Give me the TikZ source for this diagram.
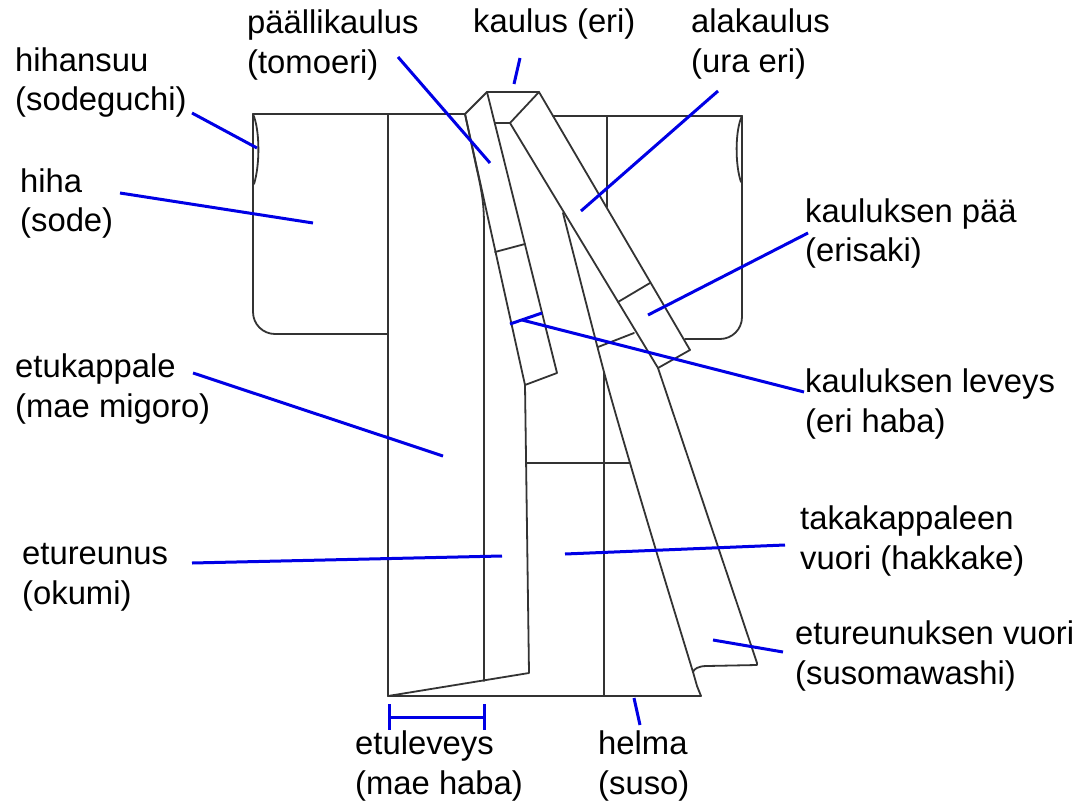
\documentclass[tikz,border=0pt]{standalone}
\usepackage{fontspec}
\setmainfont{Liberation Sans}
\begin{document}
\begin{tikzpicture}[x=1pt,y=-1pt,
  outline/.style={draw=black!80, line width=1.8pt, line join=round, line cap=round},
  pointer/.style={draw=blue!90!black, line width=3pt},
  lbl/.style={anchor=base west, inner sep=0pt, font=\fontsize{32.8}{40}\selectfont}]
\useasboundingbox[fill=white] (0,0) rectangle (1091,805);

% ---------- garment outline ----------
% left sleeve and body
\draw[outline] (253,114) -- (465,114);
\draw[outline, rounded corners=22pt] (253,114) -- (253,334) -- (388,334);
\draw[outline] (253,114) .. controls (260,130) and (260,165) .. (254,184);
\draw[outline] (388,114) -- (388,696);
% okumi seam and front edge
\draw[outline] (465,114) -- (477,170) .. controls (482,192) and (484,205) .. (484,225) -- (484,681);
\draw[outline] (388,696) -- (529,673) -- (525,385);
% hem
\draw[outline] (388,696) -- (701,696);
% right sleeve
\draw[outline] (553,116) -- (742,116);
\draw[outline, rounded corners=22pt] (742,116) -- (742,339) -- (685,339);
\draw[outline] (742,116) .. controls (735,130) and (735,165) .. (741,182);
\draw[outline] (607,116) -- (607,207);

% collar top and neck
\draw[outline] (465,114) -- (487,92) -- (539,92) -- (510,123) -- (495,123);
% over-collar strip (left)
\draw[outline] (465,114) -- (525,385) -- (557,373) -- (487,92);
\draw[outline] (495,252) -- (525,244);
% under-collar strip (right)
\draw[outline] (539,92) -- (690,350) -- (658,368);
\draw[outline] (618,302) -- (650,283);
% opened front panel edge and its hem lining
\draw[outline] (510,123) -- (658,368) -- (757,663) -- (757,665) -- (707,666)
  .. controls (698,666) and (694,669) .. (693,672);
\draw[outline] plot[smooth, tension=0.5] coordinates {(563,213) (604,372) (630,463) (661,567) (693,672)}
  -- (697,686) -- (701,696);
\draw[outline] (598,347) -- (634,333);
% back seam and lining line
\draw[outline] (604,372) -- (604,696);
\draw[outline] (526,463) -- (630,463);

% ---------- labels ----------
\node[lbl] (t1a) at (15,72) {hihansuu};
\node[lbl] (t1b) at (15,111) {(sodeguchi)};
\node[lbl] (t2a) at (20,192) {hiha};
\node[lbl] (t2b) at (20,231) {(sode)};
\node[lbl] (t3a) at (247,34) {päällikaulus};
\node[lbl] (t3b) at (247,74) {(tomoeri)};
\node[lbl] (t4a) at (473,33) {kaulus (eri)};
\node[lbl] (t5a) at (691,33) {alakaulus};
\node[lbl] (t5b) at (691,73) {(ura eri)};
\node[lbl] (t6a) at (805,222) {kauluksen pää};
\node[lbl] (t6b) at (805,261) {(erisaki)};
\node[lbl] (t7a) at (805,392) {kauluksen leveys};
\node[lbl] (t7b) at (805,432) {(eri haba)};
\node[lbl] (t8a) at (15,377) {etukappale};
\node[lbl] (t8b) at (15,417) {(mae migoro)};
\node[lbl] (t9a) at (22,564) {etureunus};
\node[lbl] (t9b) at (22,604) {(okumi)};
\node[lbl] (t10a) at (800,529) {takakappaleen};
\node[lbl] (t10b) at (800,569) {vuori (hakkake)};
\node[lbl] (t11a) at (795,644) {etureunuksen vuori};
\node[lbl] (t11b) at (795,684) {(susomawashi)};
\node[lbl] (t12a) at (355,754) {etuleveys};
\node[lbl] (t12b) at (355,794) {(mae haba)};
\node[lbl] (t13a) at (598,754) {helma};
\node[lbl] (t13b) at (598,794) {(suso)};

% ---------- pointers ----------
\coordinate (p1a) at (192,113);  \coordinate (p1b) at (257,148);
\coordinate (p2a) at (120,193);  \coordinate (p2b) at (313,223);
\coordinate (p3a) at (398,57);   \coordinate (p3b) at (490,163);
\coordinate (p4a) at (520,58);   \coordinate (p4b) at (514,84);
\coordinate (p5a) at (718,91);   \coordinate (p5b) at (581,211);
\coordinate (p6a) at (808,233);  \coordinate (p6b) at (648,315);
\coordinate (p7a) at (804,392);  \coordinate (p7b) at (522,320);
\coordinate (w7a) at (510,324);  \coordinate (w7b) at (542,313);
\coordinate (p8a) at (193,373);  \coordinate (p8b) at (443,456);
\coordinate (p9a) at (192,563);  \coordinate (p9b) at (502,556);
\coordinate (p10a) at (785,545); \coordinate (p10b) at (565,554);
\coordinate (p11a) at (783,652); \coordinate (p11b) at (713,640);
\coordinate (p13a) at (640,725); \coordinate (p13b) at (634,698);
\coordinate (d1) at (389,717);   \coordinate (d2) at (484,717);

\draw[pointer] (p1a) -- (p1b);
\draw[pointer] (p2a) -- (p2b);
\draw[pointer] (p3a) -- (p3b);
\draw[pointer] (p4a) -- (p4b);
\draw[pointer] (p5a) -- (p5b);
\draw[pointer] (p6a) -- (p6b);
\draw[pointer] (p7a) -- (p7b);
\draw[pointer] (w7a) -- (w7b);
\draw[pointer] (p8a) -- (p8b);
\draw[pointer] (p9a) -- (p9b);
\draw[pointer] (p10a) -- (p10b);
\draw[pointer] (p11a) -- (p11b);
\draw[pointer] (p13a) -- (p13b);
% width of the front panel
\draw[pointer] (d1) -- (d2);
\draw[pointer] ([yshift=13pt]d1) -- ([yshift=-13pt]d1);
\draw[pointer] ([yshift=13pt]d2) -- ([yshift=-13pt]d2);
\end{tikzpicture}
\end{document}
